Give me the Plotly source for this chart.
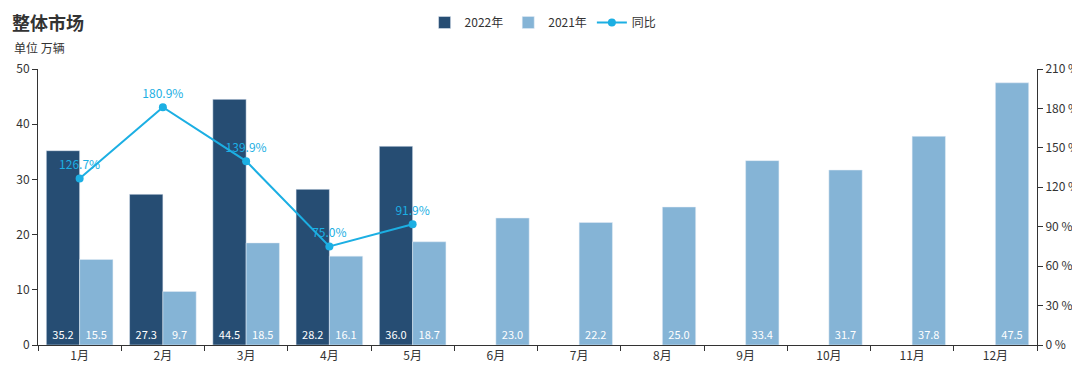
import plotly.graph_objects as go

months = ["1月", "2月", "3月", "4月", "5月", "6月", "7月", "8月", "9月", "10月", "11月", "12月"]
sales_2022 = [35.2, 27.3, 44.5, 28.2, 36.0]
sales_2021 = [15.5, 9.7, 18.5, 16.1, 18.7, 23.0, 22.2, 25.0, 33.4, 31.7, 37.8, 47.5]
yoy = [126.7, 180.9, 139.9, 75.0, 91.9]

FONT = "Noto Sans CJK SC"
dark = "#264d73"
light = "#85b4d6"
cyan = "#1cafe3"

W, H = 1072, 368
L, R, T, B = 30, 43, 61, 31
PW, PH = W - L - R, H - T - B

fig = go.Figure()
fig.add_trace(go.Bar(
    name="2022年", x=months[:len(sales_2022)], y=sales_2022, marker_color=dark,
    text=[f"{v:.1f}" for v in sales_2022], textposition="inside",
    insidetextanchor="start", textangle=0, constraintext="none",
    textfont=dict(color="white", size=11, family=FONT),
))
fig.add_trace(go.Bar(
    name="2021年", x=months, y=sales_2021, marker_color=light,
    text=[f"{v:.1f}" for v in sales_2021], textposition="inside",
    insidetextanchor="start", textangle=0, constraintext="none",
    textfont=dict(color="white", size=11, family=FONT),
))
fig.add_trace(go.Scatter(
    name="同比", x=months[:len(yoy)], y=yoy, yaxis="y2", mode="lines+markers+text",
    line=dict(color=cyan, width=2), marker=dict(color=cyan, size=8),
    text=[f"{v:.1f}%" for v in yoy], textposition="top center",
    textfont=dict(color=cyan, size=12, family=FONT),
))

fig.update_layout(
    width=W, height=H,
    margin=dict(l=L, r=R, t=T, b=B, autoexpand=False),
    paper_bgcolor="white", plot_bgcolor="white",
    font=dict(family=FONT, size=12, color="#333333"),
    barmode="group", bargap=0.2, bargroupgap=0,
    showlegend=True,
    legend=dict(orientation="h", x=542 / W, xanchor="center", y=1.0, yanchor="top",
                yref="container", font=dict(size=12, color="#333")),
    xaxis=dict(showgrid=False, showline=True, linecolor="#333", ticks="outside",
               tickson="boundaries", ticklen=5, tickcolor="#333", automargin=False,
               range=[-0.5, len(months) - 0.5], categoryorder="array", categoryarray=months,
               tickfont=dict(size=12, color="#333")),
    yaxis=dict(range=[0, 50], dtick=10, showgrid=False, showline=True, linecolor="#333",
               ticks="outside", ticklen=5, tickcolor="#333", zeroline=False, automargin=False,
               tickfont=dict(size=12, color="#333")),
    yaxis2=dict(range=[0, 210], dtick=30, overlaying="y", side="right", showgrid=False,
                showline=True, linecolor="#333", ticks="outside", ticklen=5,
                tickcolor="#333", ticksuffix=" %", zeroline=False, automargin=False,
                tickfont=dict(size=12, color="#333")),
)
fig.add_annotation(text="<b>整体市场</b>", xref="paper", yref="paper", x=(2 - L) / PW, y=1 + (T - 14) / PH,
                   xanchor="left", yanchor="middle", showarrow=False,
                   font=dict(size=18, color="#333", family=FONT))
fig.add_annotation(text="单位 万辆", xref="paper", yref="paper", x=(4 - L) / PW, y=1 + (T - 39) / PH,
                   xanchor="left", yanchor="middle", showarrow=False,
                   font=dict(size=12, color="#333", family=FONT))

fig.write_html("out.html")
